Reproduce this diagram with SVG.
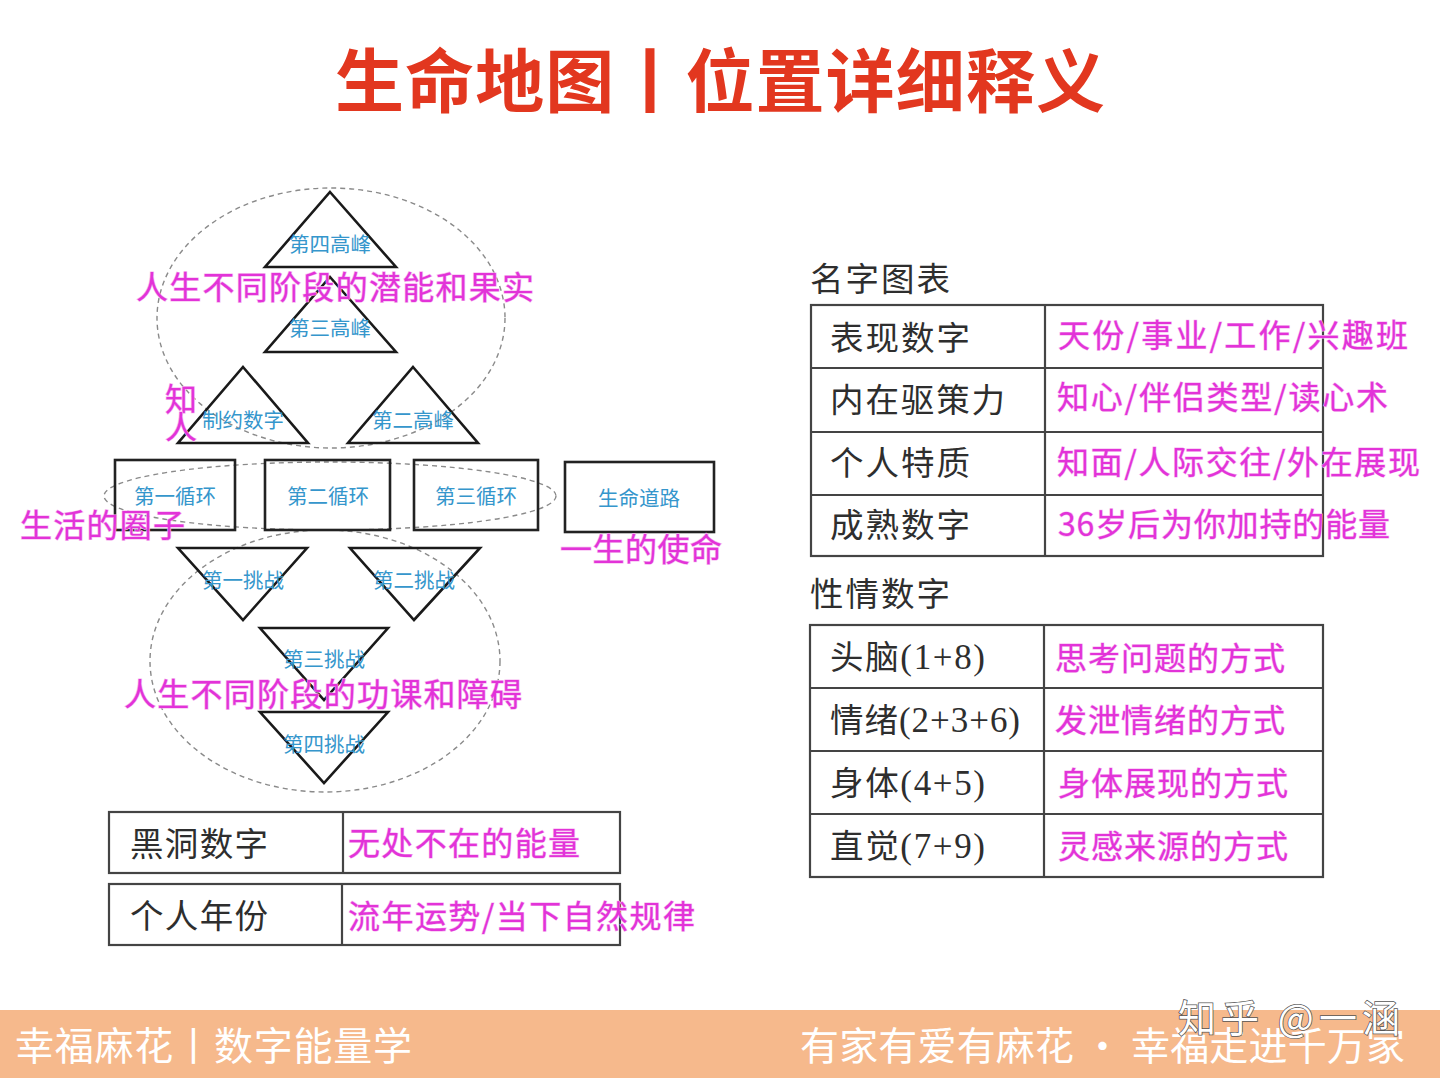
<svg xmlns="http://www.w3.org/2000/svg" width="1440" height="1078" viewBox="0 0 1440 1078">
<style>
.tri{fill:none;stroke:#1a1a1a;stroke-width:2.6;stroke-linejoin:miter}
.box{fill:none;stroke:#222;stroke-width:2.6}
.ell{fill:none;stroke:#8a8a8a;stroke-width:1.4;stroke-dasharray:5 4}
.lbl{font-family:"Noto Sans CJK SC","Noto Sans",sans-serif;font-size:20.5px;fill:#3596cc;text-anchor:middle}
.mag{font-family:"Noto Sans CJK SC","Noto Sans",sans-serif;font-size:32px;fill:#e233d8;stroke:#f7b6f0;stroke-width:1.2;paint-order:stroke}
.magt{font-family:"Noto Sans CJK SC","Noto Sans",sans-serif;font-size:32px;fill:#e233d8;stroke:#f7b6f0;stroke-width:1;paint-order:stroke}
.dk{font-family:"Noto Sans CJK SC","Noto Sans",sans-serif;font-size:33.5px;fill:#2e2e2e}
.num{font-family:"Liberation Serif","Noto Serif CJK SC",serif}
.tbl{fill:#fff;stroke:#444;stroke-width:2.2}
.div{stroke:#444;stroke-width:2.2}
.foot{font-family:"Noto Sans CJK SC","Noto Sans",sans-serif;font-size:39px;fill:#fff}
</style>
<rect x="0" y="0" width="1440" height="1078" fill="#fff"/>

<text x="335" y="107" textLength="770" font-family="'Noto Sans CJK SC',sans-serif" font-size="69" font-weight="bold" fill="#e2371f">生命地图丨位置详细释义</text>

<g id="groupings">
  <ellipse class="ell" cx="331" cy="318" rx="174" ry="130"/>
  <ellipse class="ell" cx="330" cy="496" rx="226" ry="34"/>
  <ellipse class="ell" cx="325" cy="661" rx="175" ry="131"/>
</g>

<g id="connectors"></g>

<g id="peak4"><polygon class="tri" points="330,192 396,267 265,267"/><text class="lbl" x="330" y="252">第四高峰</text></g>
<g id="peak3"><polygon class="tri" points="330,277 396,352 265,352"/><text class="lbl" x="330" y="336">第三高峰</text></g>
<g id="constraint"><polygon class="tri" points="243,367 308,443 178,443"/><text class="lbl" x="243" y="428">制约数字</text></g>
<g id="peak2"><polygon class="tri" points="413,367 478,443 348,443"/><text class="lbl" x="413" y="428">第二高峰</text></g>

<g id="cycle1"><rect class="box" x="115" y="460" width="120" height="70"/><text class="lbl" x="175" y="504">第一循环</text></g>
<g id="cycle2"><rect class="box" x="265" y="460" width="125" height="70"/><text class="lbl" x="328" y="504">第二循环</text></g>
<g id="cycle3"><rect class="box" x="414" y="460" width="124" height="70"/><text class="lbl" x="476" y="504">第三循环</text></g>
<g id="lifepath"><rect class="box" x="565" y="462" width="149" height="70"/><text class="lbl" x="639" y="506">生命道路</text></g>

<g id="challenge1"><polygon class="tri" points="178,548 307,548 243,620"/><text class="lbl" x="243" y="588">第一挑战</text></g>
<g id="challenge2"><polygon class="tri" points="350,548 480,548 414,620"/><text class="lbl" x="414" y="588">第二挑战</text></g>
<g id="challenge3"><polygon class="tri" points="260,628 388,628 324,700"/><text class="lbl" x="324" y="667">第三挑战</text></g>
<g id="challenge4"><polygon class="tri" points="260,712 388,712 324,783"/><text class="lbl" x="324" y="752">第四挑战</text></g>

<g id="annotations">
  <text class="mag" x="136" y="299" textLength="398">人生不同阶段的潜能和果实</text>
  <text class="mag" x="165" y="411" font-size="30">知</text>
  <text class="mag" x="165" y="439" font-size="30">人</text>
  <text class="mag" x="20" y="537" textLength="165">生活的圈子</text>
  <text class="mag" x="560" y="561" textLength="162">一生的使命</text>
  <text class="mag" x="124" y="706" textLength="398">人生不同阶段的功课和障碍</text>
</g>

<g id="blackhole">
  <rect class="tbl" x="109" y="812" width="511" height="61"/>
  <line class="div" x1="343" y1="812" x2="343" y2="873"/>
  <text class="dk" x="130" y="856" textLength="138">黑洞数字</text>
  <text class="magt" x="348" y="855" textLength="232">无处不在的能量</text>
</g>
<g id="personalyear">
  <rect class="tbl" x="109" y="884" width="511" height="61"/>
  <line class="div" x1="342" y1="884" x2="342" y2="945"/>
  <text class="dk" x="130" y="928" textLength="138">个人年份</text>
  <text class="magt" x="348" y="928" textLength="347">流年运势/当下自然规律</text>
</g>

<g id="namechart">
  <text class="dk" x="810" y="291" textLength="140">名字图表</text>
  <rect class="tbl" x="811" y="305" width="512" height="251"/>
  <line class="div" x1="811" y1="368" x2="1323" y2="368"/>
  <line class="div" x1="811" y1="432" x2="1323" y2="432"/>
  <line class="div" x1="811" y1="495" x2="1323" y2="495"/>
  <line class="div" x1="1045" y1="305" x2="1045" y2="556"/>
  <text class="dk" x="830" y="350" textLength="140">表现数字</text>
  <text class="dk" x="830" y="412" textLength="175">内在驱策力</text>
  <text class="dk" x="830" y="475" textLength="140">个人特质</text>
  <text class="dk" x="830" y="537" textLength="140">成熟数字</text>
  <text class="magt" x="1058" y="347" textLength="350">天份/事业/工作/兴趣班</text>
  <text class="magt" x="1057" y="409" textLength="331">知心/伴侣类型/读心术</text>
  <text class="magt" x="1057" y="474" textLength="363">知面/人际交往/外在展现</text>
  <text class="magt" x="1058" y="536" textLength="332">36岁后为你加持的能量</text>
</g>

<g id="temperament">
  <text class="dk" x="810" y="606" textLength="140">性情数字</text>
  <rect class="tbl" x="810" y="625" width="513" height="252"/>
  <line class="div" x1="810" y1="688" x2="1323" y2="688"/>
  <line class="div" x1="810" y1="751" x2="1323" y2="751"/>
  <line class="div" x1="810" y1="814" x2="1323" y2="814"/>
  <line class="div" x1="1044" y1="625" x2="1044" y2="877"/>
  <text class="dk" x="830" y="669" textLength="155">头脑<tspan class="num" font-size="35">(1+8)</tspan></text>
  <text class="dk" x="830" y="732" textLength="190">情绪<tspan class="num" font-size="35">(2+3+6)</tspan></text>
  <text class="dk" x="830" y="795" textLength="155">身体<tspan class="num" font-size="35">(4+5)</tspan></text>
  <text class="dk" x="830" y="858" textLength="155">直觉<tspan class="num" font-size="35">(7+9)</tspan></text>
  <text class="magt" x="1055" y="670" textLength="230">思考问题的方式</text>
  <text class="magt" x="1055" y="732" textLength="230">发泄情绪的方式</text>
  <text class="magt" x="1058" y="795" textLength="230">身体展现的方式</text>
  <text class="magt" x="1058" y="858" textLength="230">灵感来源的方式</text>
</g>

<g id="footer">
  <rect x="0" y="1010" width="1440" height="68" fill="#f6b98c"/>
  <text class="foot" x="15" y="1060" textLength="397">幸福麻花丨数字能量学</text>
  <text class="foot" x="800" y="1060" textLength="605">有家有爱有麻花 · 幸福走进千万家</text>
  <text x="1178" y="1032" textLength="222" font-family="'Noto Sans CJK SC',sans-serif" font-size="38" fill="#fff" stroke="#555" stroke-width="1.5" paint-order="stroke">知乎 @一涵</text>
</g>
</svg>
